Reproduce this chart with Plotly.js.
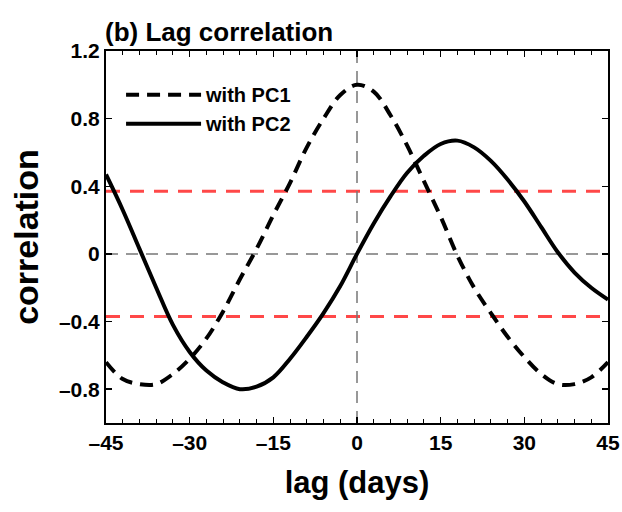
<!DOCTYPE html>
<html><head><meta charset="utf-8">
<script src="https://cdn.plot.ly/plotly-3.0.1.min.js"></script>
<style>html,body{margin:0;padding:0;background:#fff}#chart{width:622px;height:512px}</style>
</head><body><div id="chart"></div>
<script>
const lags = [-45,-42,-39,-36,-33,-30,-27,-24,-21,-18,-15,-12,-9,-6,-3,0,3,6,9,12,15,18,21,24,27,30,33,36,39,42,45];
const corrPC1 = [-0.64,-0.74,-0.77,-0.77,-0.71,-0.62,-0.50,-0.34,-0.15,0.03,0.23,0.42,0.63,0.80,0.94,1.00,0.96,0.82,0.64,0.43,0.22,-0.01,-0.20,-0.35,-0.49,-0.61,-0.71,-0.77,-0.77,-0.73,-0.64];
const corrPC2 = [0.47,0.26,0.03,-0.20,-0.42,-0.58,-0.69,-0.76,-0.80,-0.785,-0.73,-0.62,-0.49,-0.35,-0.19,0.00,0.18,0.34,0.48,0.58,0.65,0.67,0.63,0.55,0.44,0.31,0.16,0.01,-0.11,-0.20,-0.27];
const sigLevel = 0.37;
const xTicks = [-45,-30,-15,0,15,30,45];
const yTicks = [-0.8,-0.4,0,0.4,0.8,1.2];
const seriesNames = ['with PC1','with PC2'];

const font = '"Liberation Sans", Arial, Helvetica, sans-serif';
const dash = v => v < 0 ? '\u2013' + Math.abs(v) : String(v);

const traces = [
  {x: lags, y: corrPC1, name: seriesNames[0], mode: 'lines', line: {color: '#000', width: 4, dash: '13px,8px', shape: 'spline'}},
  {x: lags, y: corrPC2, name: seriesNames[1], mode: 'lines', line: {color: '#000', width: 4, shape: 'spline'}}
];

const shapes = [
  {type:'line', xref:'paper', x0:0, x1:1, yref:'y', y0:sigLevel, y1:sigLevel, line:{color:'rgba(255,40,40,0.85)', width:3, dash:'14px,10px'}, layer:'below'},
  {type:'line', xref:'paper', x0:0, x1:1, yref:'y', y0:-sigLevel, y1:-sigLevel, line:{color:'rgba(255,40,40,0.85)', width:3, dash:'14px,10px'}, layer:'below'},
  {type:'line', xref:'paper', x0:0, x1:1, yref:'y', y0:0, y1:0, line:{color:'#777', width:1.5, dash:'12px,8px'}, layer:'below'},
  {type:'line', xref:'x', x0:0, x1:0, yref:'paper', y0:0, y1:1, line:{color:'#777', width:1.5, dash:'12px,8px'}, layer:'below'}
];

const layout = {
  width: 622, height: 512,
  margin: {l: 106, r: 14, t: 51, b: 89},
  paper_bgcolor: '#fff', plot_bgcolor: '#fff',
  showlegend: true,
  legend: {x: 0.03, y: 0.935, xanchor: 'left', yanchor: 'top', bgcolor: 'rgba(0,0,0,0)', borderwidth: 0,
           font: {family: font, size: 20, color: '#000', weight: 'bold'}, itemwidth: 75, tracegroupgap: 0},
  title: {text: '(b) Lag correlation', x: 105/622, xref: 'container', xanchor: 'left', y: 1 - 32/512, yref: 'container', yanchor: 'middle',
          font: {family: font, size: 26, color: '#000', weight: 'bold'}},
  xaxis: {range: [-45, 45], tickvals: xTicks, ticktext: xTicks.map(dash),
          ticks: 'inside', ticklen: 6, tickwidth: 1.5, tickcolor: '#000', showline: true, linecolor: '#000', linewidth: 2, mirror: 'ticks',
          showgrid: false, zeroline: false, tickfont: {family: font, size: 21, color: '#000', weight: 'bold'},
          minor: {dtick: 3, ticks: 'inside', ticklen: 4, tickwidth: 1, tickcolor: '#000', showgrid: false},
          title: {text: 'lag (days)', font: {family: font, size: 31, color: '#000', weight: 'bold'}, standoff: 18}},
  yaxis: {range: [-1, 1.2], tickvals: yTicks, ticktext: yTicks.map(dash),
          ticks: 'inside', ticklen: 6, tickwidth: 1.5, tickcolor: '#000', showline: true, linecolor: '#000', linewidth: 2, mirror: 'ticks',
          showgrid: false, zeroline: false, tickfont: {family: font, size: 21, color: '#000', weight: 'bold'},
          title: {text: 'correlation', font: {family: font, size: 34, color: '#000', weight: 'bold'}, standoff: 10}},
  shapes: shapes
};

Plotly.newPlot('chart', traces, layout, {displayModeBar: false, staticPlot: true});
</script></body></html>
